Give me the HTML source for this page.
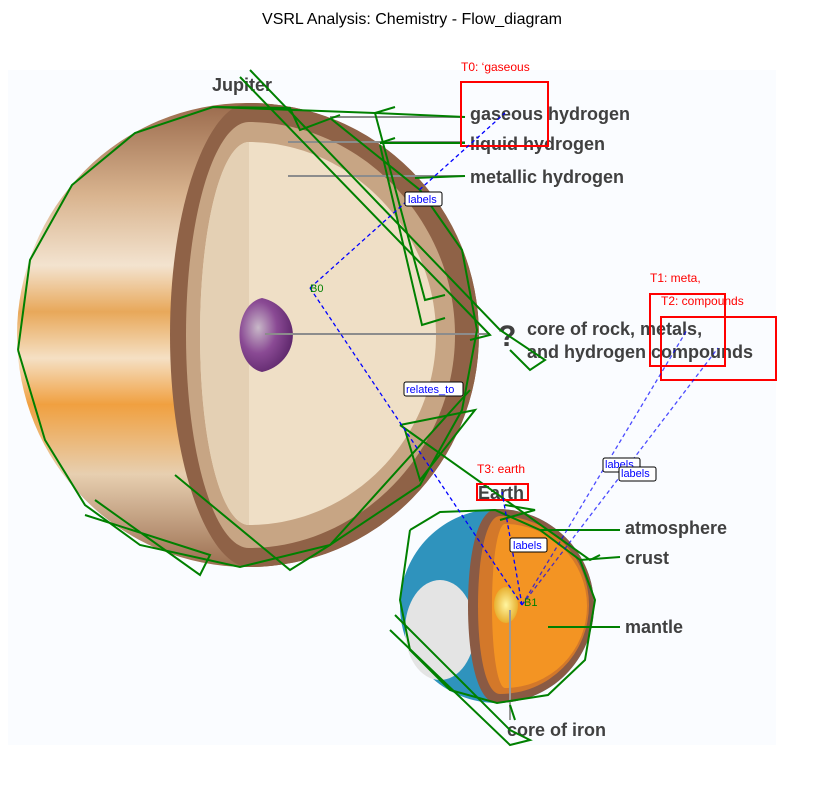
<!DOCTYPE html>
<html><head><meta charset="utf-8"><style>
body{margin:0;background:#fff;width:824px;height:790px;overflow:hidden;font-family:"Liberation Sans",sans-serif}
</style></head><body>
<svg width="824" height="790" viewBox="0 0 824 790" xmlns="http://www.w3.org/2000/svg">
<defs>
<linearGradient id="jband" x1="0" y1="0" x2="0" y2="1">
<stop offset="0" stop-color="#9a6a4c"/><stop offset="0.2" stop-color="#d9b48f"/><stop offset="0.35" stop-color="#f3e3cf"/><stop offset="0.45" stop-color="#e8a85a"/><stop offset="0.55" stop-color="#f5e0c4"/><stop offset="0.65" stop-color="#f0a040"/><stop offset="0.8" stop-color="#e7cfb0"/><stop offset="1" stop-color="#9b6e50"/>
</linearGradient>
<radialGradient id="core" cx="0.35" cy="0.4" r="0.7"><stop offset="0" stop-color="#c8b8c8"/><stop offset="0.5" stop-color="#8a4a94"/><stop offset="1" stop-color="#5a2468"/></radialGradient>
<radialGradient id="ecore" cx="0.5" cy="0.5" r="0.5"><stop offset="0" stop-color="#fff6a0"/><stop offset="1" stop-color="#e8b030"/></radialGradient>
</defs>
<text x="412" y="24" text-anchor="middle" font-size="16" fill="#000">VSRL Analysis: Chemistry - Flow_diagram</text>
<rect x="8" y="70" width="768" height="675" fill="#fafcff"/>
<g>
<ellipse cx="247" cy="335" rx="230" ry="232" fill="url(#jband)"/>
<path d="M249 103 A230 232 0 0 1 249 567 Z" fill="#8f6247"/>
<path d="M249 103 C210 103 170 200 170 335 C170 470 210 567 249 567 A230 232 0 0 0 249 103Z" fill="#8f6247"/>
<path d="M249 122 C215 122 186 215 186 335 C186 455 215 548 249 548 C360 548 455 450 455 335 C455 220 360 122 249 122Z" fill="#c7a584"/>
<path d="M249 142 C222 142 200 225 200 335 C200 445 222 525 249 525 C350 525 436 440 436 335 C436 230 350 142 249 142Z" fill="#efdfc6"/>
<path d="M249 142 C222 142 200 225 200 335 C200 445 222 525 249 525Z" fill="#e4d0b4"/>
<path d="M262 298 A40 38 0 0 1 262 372 C232 365 232 305 262 298Z" fill="url(#core)"/>
<g stroke="#8c8c8c" stroke-width="2"><line x1="330" y1="117" x2="465" y2="117"/><line x1="288" y1="142" x2="465" y2="142"/><line x1="288" y1="176" x2="465" y2="176"/><line x1="265" y1="334" x2="490" y2="334"/></g>
</g>
<g>
<circle cx="497" cy="606" r="97" fill="#2f93bd"/>
<ellipse cx="440" cy="630" rx="35" ry="50" fill="#e4e4e4"/>
<path d="M497 509 A97 97 0 0 1 497 703 C478 703 468 660 468 606 C468 552 478 509 497 509Z" fill="#8a5a44"/>
<path d="M500 516 A88 88 0 0 1 500 694 C486 694 478 655 478 606 C478 557 486 516 500 516Z" fill="#d3782a"/>
<path d="M505 524 A82 82 0 0 1 505 688 C498 688 492 655 492 606 C492 557 498 524 505 524Z" fill="#f39423"/>
<ellipse cx="506" cy="605" rx="12" ry="18" fill="url(#ecore)"/>
<g stroke="#9a9a9a" stroke-width="2"><line x1="548" y1="627" x2="600" y2="627"/><line x1="510" y1="610" x2="510" y2="720"/></g>
</g>
<g font-size="18" font-weight="bold" fill="#404040">
<text x="212" y="91">Jupiter</text>
<text x="470" y="120">gaseous hydrogen</text>
<text x="470" y="150">liquid hydrogen</text>
<text x="470" y="183">metallic hydrogen</text>
<text x="498" y="346" font-size="30">?</text>
<text x="527" y="335">core of rock, metals,</text>
<text x="527" y="358">and hydrogen compounds</text>
<text x="478" y="499">Earth</text>
<text x="625" y="534">atmosphere</text>
<text x="625" y="564">crust</text>
<text x="625" y="633">mantle</text>
<text x="507" y="736">core of iron</text>
</g>
<g fill="none" stroke="#008000" stroke-width="2">
<polyline points="18,350 30,260 72,185 135,133 213,107 375,113 465,117"/>
<polyline points="213,107 290,108 300,130 340,115"/>
<polyline points="375,113 395,107"/>
<polyline points="380,143 465,143"/><polyline points="380,143 395,138"/>
<polyline points="415,178 465,176"/>
<polyline points="18,350 45,440 85,505 140,545 240,567 330,545 420,485 462,410 477,330 462,250 420,190 330,118"/>
<polyline points="240,77 490,335 470,340"/>
<polyline points="250,70 500,330 545,360 530,370 510,350"/>
<polyline points="375,113 425,300 445,295"/><polyline points="380,145 422,325 445,318"/>
<polyline points="400,425 590,560 600,555"/><polyline points="400,425 475,410 420,480 405,430"/>
<polyline points="175,475 290,570 330,545 470,390"/>
<polyline points="95,500 200,575 210,555 85,515"/>
<polyline points="410,530 440,512 495,510 540,530 580,560 595,600 585,660 548,695 497,703 450,690 410,650 400,600 410,530"/>
<polyline points="548,627 620,627"/><polyline points="540,530 620,530"/><polyline points="580,560 620,557"/>
<polyline points="505,505 535,510 500,520"/>
<polyline points="395,615 510,730 530,740 510,745 390,630"/>
<polyline points="510,705 515,720"/>
</g>
<g fill="none" stroke="#ff0000" stroke-width="2">
<rect x="461" y="82" width="87" height="64"/>
<rect x="650" y="294" width="75" height="72"/>
<rect x="661" y="317" width="115" height="63"/>
<rect x="477" y="484" width="51" height="16"/>
</g>
<g font-size="12" fill="#ff0000">
<text x="461" y="71">T0: ‘gaseous</text><text x="650" y="282">T1: meta,</text>
<text x="661" y="305">T2: compounds</text><text x="477" y="473">T3: earth</text>
</g>
<g fill="none" stroke="#0000ff" stroke-width="1.3" stroke-dasharray="4,3">
<line x1="310" y1="288" x2="505" y2="113"/><line x1="310" y1="288" x2="522" y2="605"/>
<line x1="522" y1="605" x2="502" y2="492"/>
<line x1="522" y1="605" x2="687" y2="330" opacity="0.7"/><line x1="522" y1="605" x2="718" y2="348" opacity="0.7"/>
</g>
<g font-size="11" fill="#008000"><text x="310" y="292">B0</text><text x="524" y="606">B1</text></g>
<g font-size="11" fill="#0000ff">
<rect x="405" y="192" width="37" height="14" rx="2" fill="#fff" stroke="#000"/><text x="408" y="203">labels</text>
<rect x="404" y="382" width="59" height="14" rx="2" fill="#fff" stroke="#000"/><text x="406" y="393">relates_to</text>
<rect x="603" y="458" width="37" height="14" rx="2" fill="#fff" stroke="#000"/><text x="605" y="468">labels</text>
<rect x="619" y="467" width="37" height="14" rx="2" fill="#fff" stroke="#000"/><text x="621" y="477">labels</text>
<rect x="510" y="538" width="37" height="14" rx="2" fill="#fff" stroke="#000"/><text x="513" y="549">labels</text>
</g>
</svg>
</body></html>
